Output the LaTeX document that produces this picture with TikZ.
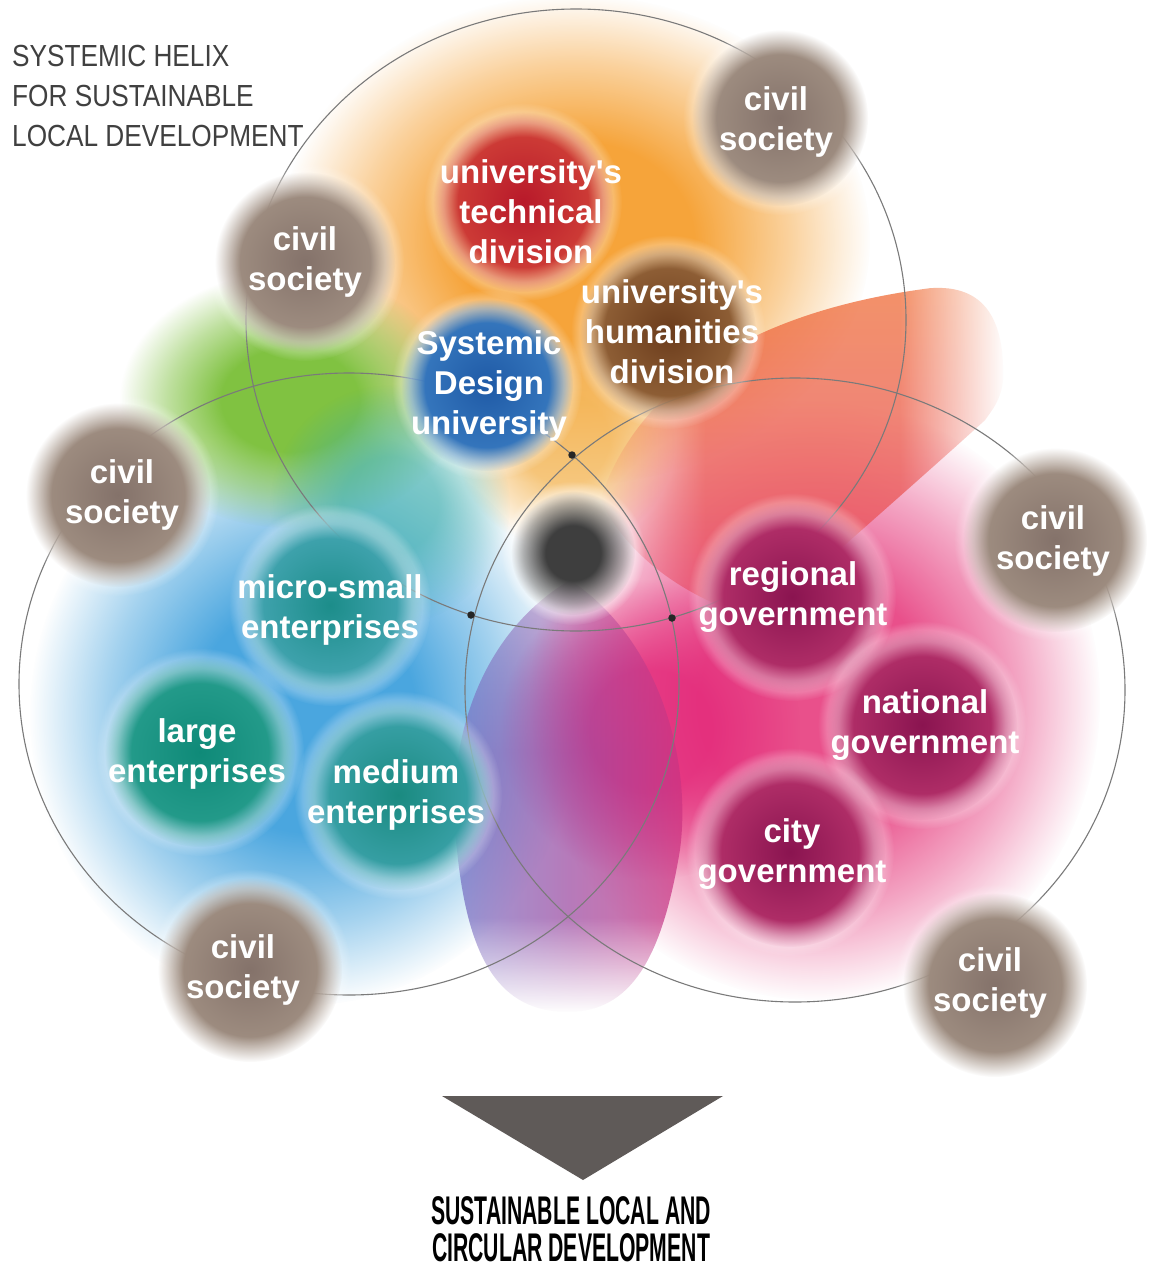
\documentclass[tikz,border=0pt]{standalone}
\usepackage{fontspec}
\usetikzlibrary{fadings}
\newfontfamily\nodefont{Liberation Sans}
\newfontfamily\titlefont{Liberation Sans}[FakeStretch=0.86]
\newfontfamily\footfont{Liberation Sans}[FakeStretch=0.53]

\definecolor{ringgray}{HTML}{7A7A7A}
\definecolor{cblue}{HTML}{4AA6DF}
\definecolor{cpink}{HTML}{E9508B}
\definecolor{corange}{HTML}{F6A43A}
\definecolor{cyel}{HTML}{F3B048}
\definecolor{cgreen}{HTML}{80C241}
\definecolor{cteal}{HTML}{3AAEA8}
\definecolor{cmag}{HTML}{E3287A}
\definecolor{csin}{HTML}{84726A}
\definecolor{csout}{HTML}{A69587}
\definecolor{tri}{HTML}{5F5A58}
\definecolor{redtop}{HTML}{F0743F}
\definecolor{redbot}{HTML}{E84A6A}
\definecolor{purL}{HTML}{7276C8}
\definecolor{purM}{HTML}{9A48A0}
\definecolor{purR}{HTML}{D0327F}
\definecolor{techin}{HTML}{B8192A}
\definecolor{techout}{HTML}{D4473A}
\definecolor{humin}{HTML}{6B3C1C}
\definecolor{humout}{HTML}{9A6A3E}
\definecolor{sduin}{HTML}{1F5AA6}
\definecolor{sduout}{HTML}{3C7FC4}
\definecolor{micin}{HTML}{1C8D8A}
\definecolor{micout}{HTML}{4AA9B8}
\definecolor{lrgin}{HTML}{0F8A78}
\definecolor{lrgout}{HTML}{2AA090}
\definecolor{medin}{HTML}{1A8A80}
\definecolor{medout}{HTML}{40A6B0}
\definecolor{govin}{HTML}{8A1450}
\definecolor{govout}{HTML}{BC366F}
\definecolor{greyin}{HTML}{3E3E3E}

\pgfdeclareradialshading{blobsh}{\pgfpointorigin}{color(0bp)=(white); color(10bp)=(white); color(18bp)=(gray); color(25bp)=(black); color(50bp)=(black)}
\pgfdeclarefading{blobfade}{\pgfuseshading{blobsh}}
\pgfdeclareradialshading{nodesh}{\pgfpointorigin}{color(0bp)=(white); color(18bp)=(white); color(25bp)=(black); color(50bp)=(black)}
\pgfdeclarefading{nodefade}{\pgfuseshading{nodesh}}
\pgfdeclareradialshading{halosh}{\pgfpointorigin}{color(0bp)=(white); color(20bp)=(white); color(25bp)=(black); color(50bp)=(black)}
\pgfdeclarefading{halofade}{\pgfuseshading{halosh}}
\pgfdeclareradialshading{coresh}{\pgfpointorigin}{color(0bp)=(white); color(11bp)=(white); color(20bp)=(black!60); color(25bp)=(black); color(50bp)=(black)}
\pgfdeclarefading{corefade}{\pgfuseshading{coresh}}
\pgfdeclareverticalshading{southsh}{100bp}{color(0bp)=(black); color(25bp)=(black); color(36bp)=(white); color(55bp)=(white); color(75bp)=(black!45); color(100bp)=(black!45)}
\pgfdeclarefading{southfade}{\pgfuseshading{southsh}}
\pgfdeclarehorizontalshading{petalsh}{100bp}{color(0bp)=(black); color(25bp)=(black); color(38bp)=(white); color(62bp)=(white); color(75bp)=(black); color(100bp)=(black)}
\pgfdeclarefading{petalfade}{\pgfuseshading{petalsh}}

\newcommand\glowdisc[4]{%
  \fill[white, opacity=.55, path fading=halofade] (#1) circle [radius={(#2+9)*1pt}];
  \shade[inner color=#3, outer color=#4, path fading=nodefade] (#1) circle [radius={#2*1pt}];
}

\tikzset{
  ring/.style={draw=ringgray, line width=1.1pt},
  lbl/.style={text=white, font=\nodefont\bfseries\fontsize{33}{40}\selectfont, align=center, inner sep=0pt},
  dotn/.style={circle, fill=black!85, inner sep=0pt, minimum size=7.5pt},
  ttl/.style={text=black!75, font=\titlefont\fontsize{30.5}{40}\selectfont, align=left, inner sep=0pt},
  foot/.style={text=black, font=\footfont\bfseries\fontsize{40}{37}\selectfont, align=center, inner sep=0pt},
}

\begin{document}
\begin{tikzpicture}[x=1pt,y=-1pt]
\useasboundingbox (0,0) rectangle (1156,1271);
\fill[white] (0,0) rectangle (1156,1271);

% background colour fields
\fill[cblue, path fading=blobfade] (305,715) ellipse [x radius=275pt, y radius=290pt];
\fill[cpink, path fading=blobfade] (815,700) ellipse [x radius=285pt, y radius=300pt];
\fill[cmag, opacity=.8, path fading=blobfade] (650,730) circle [radius=150pt];
\fill[corange, path fading=blobfade] (575,240) ellipse [x radius=295pt, y radius=245pt];
\fill[cyel, opacity=.7, path fading=blobfade] (565,440) circle [radius=110pt];
\fill[cgreen, path fading=blobfade] (290,400) ellipse [x radius=170pt, y radius=128pt];
\fill[cteal, opacity=.6, path fading=blobfade] (390,505) circle [radius=120pt];

% red petal (upper right)
\shade[top color=redtop, bottom color=redbot, opacity=.78, path fading=petalfade]
  (600,500) .. controls (640,380) and (760,310) .. (930,288)
  .. controls (985,284) and (1005,320) .. (1003,380)
  .. controls (1001,400) and (992,410) .. (985,420)
  .. controls (930,470) and (850,540) .. (760,620)
  .. controls (690,600) and (630,560) .. (600,500) -- cycle;

% purple petal (down)
\shade[left color=purL, right color=purR, middle color=purM, opacity=.72, path fading=southfade]
  (570,580) .. controls (470,640) and (445,760) .. (457,850)
  .. controls (468,960) and (500,1012) .. (568,1012)
  .. controls (630,1012) and (662,960) .. (680,850)
  .. controls (692,760) and (660,640) .. (570,580) -- cycle;

% central grey
\fill[white, opacity=.6, path fading=halofade] (573,553) circle [radius=72pt];
\fill[greyin, path fading=corefade] (573,553) circle [radius=62pt];

% three rings
\draw[ring] (576,320) ellipse [x radius=330pt, y radius=311pt];
\draw[ring] (349,684) ellipse [x radius=330pt, y radius=311pt];
\draw[ring] (795,690) ellipse [x radius=330pt, y radius=312pt];

% discs
\glowdisc{780,118}{88}{csin}{csout}
\glowdisc{305,262}{90}{csin}{csout}
\glowdisc{118,495}{92}{csin}{csout}
\glowdisc{1055,540}{92}{csin}{csout}
\glowdisc{250,970}{92}{csin}{csout}
\glowdisc{995,985}{92}{csin}{csout}
\glowdisc{523,202}{90}{techin}{techout}
\glowdisc{668,332}{88}{humin}{humout}
\glowdisc{487,385}{86}{sduin}{sduout}
\glowdisc{330,605}{92}{micin}{micout}
\glowdisc{200,752}{95}{lrgin}{lrgout}
\glowdisc{398,795}{95}{medin}{medout}
\glowdisc{792,597}{95}{govin}{govout}
\glowdisc{922,725}{95}{govin}{govout}
\glowdisc{790,852}{95}{govin}{govout}

% intersection dots
\node[dotn] (d1) at (572,455) {};
\node[dotn] (d2) at (471,615) {};
\node[dotn] (d3) at (672,618) {};

% labels
\node[lbl] (cs1) at (776,122) {civil\\society};
\node[lbl] (cs2) at (305,262) {civil\\society};
\node[lbl] (cs3) at (122,495) {civil\\society};
\node[lbl] (cs4) at (1053,541) {civil\\society};
\node[lbl] (cs5) at (243,970) {civil\\society};
\node[lbl] (cs6) at (990,983) {civil\\society};
\node[lbl] (tech) at (531,212) {university's\\technical\\division};
\node[lbl] (hum) at (672,332) {university's\\humanities\\division};
\node[lbl] (sdu) at (489,386) {Systemic\\Design\\university};
\node[lbl] (micro) at (330,610) {micro-small\\enterprises};
\node[lbl] (large) at (197,754) {large\\enterprises};
\node[lbl] (medium) at (396,795) {medium\\enterprises};
\node[lbl] (regional) at (793,597) {regional\\government};
\node[lbl] (national) at (925,725) {national\\government};
\node[lbl] (city) at (792,854) {city\\government};

% title
\node[ttl, anchor=north west] (title) at (12,45) {SYSTEMIC HELIX\\FOR SUSTAINABLE\\LOCAL DEVELOPMENT};

% arrow and result
\coordinate (tA) at (442,1096);
\coordinate (tB) at (723,1096);
\coordinate (tC) at (583,1180);
\fill[tri] (tA) -- (tB) -- (tC) -- cycle;
\node[foot] (result) at (571,1229) {SUSTAINABLE LOCAL AND\\CIRCULAR DEVELOPMENT};
\end{tikzpicture}
\end{document}
